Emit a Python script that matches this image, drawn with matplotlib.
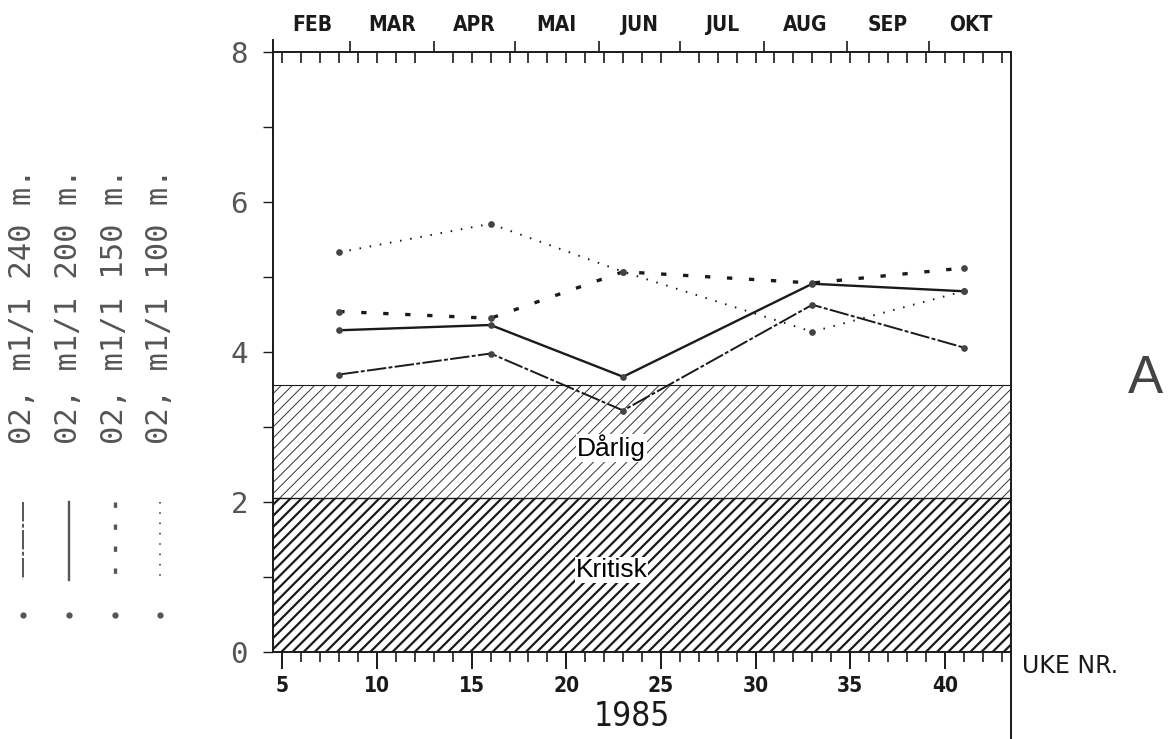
import numpy as np
import matplotlib
matplotlib.use('Agg')
import matplotlib.pyplot as plt
from matplotlib.lines import Line2D

# data
weeks = [8, 16, 23, 33, 41]
o2_240 = [3.70, 3.98, 3.22, 4.63, 4.06]
o2_200 = [4.29, 4.36, 3.67, 4.91, 4.81]
o2_150 = [4.54, 4.45, 5.07, 4.92, 5.12]
o2_100 = [5.33, 5.71, 5.07, 4.27, 4.81]
legend_labels = ['02, m1/1 240 m.', '02, m1/1 200 m.', '02, m1/1 150 m.', '02, m1/1 100 m.']

kritisk_top = 2.05
darlig_top = 3.56

months = ['FEB', 'MAR', 'APR', 'MAI', 'JUN', 'JUL', 'AUG', 'SEP', 'OKT']
month_start_day = [32, 60, 91, 121, 152, 182, 213, 244, 274, 305]  # day of year, 1985

styles = [
    dict(ls=(0, (10, 1.2, 2, 1.2)), lw=1.4),
    dict(ls='-', lw=1.7),
    dict(ls=(0, (1.6, 5)), lw=2.4),
    dict(ls=(0, (0.8, 4.5)), lw=1.4),
]
series = [o2_240, o2_200, o2_150, o2_100]

ink = '#1a1a1a'
grey = '#555555'
plotfont = dict(family='DejaVu Sans', fontstretch='condensed')

fig = plt.figure(figsize=(11.73, 7.39), dpi=100)
ax = fig.add_axes([273/1173, 1-652/739, (1011-273)/1173, 600/739])
ax.set_xlim(4.5, 43.5)
ax.set_ylim(0, 8)

# hatched zones
kr = ax.fill_between([4.5, 43.5], 0, kritisk_top, facecolor='white',
                     edgecolor=ink, hatch='///', linewidth=0)
da = ax.fill_between([4.5, 43.5], kritisk_top, darlig_top, facecolor='white',
                     edgecolor='#333333', hatch='///', linewidth=0)
if hasattr(kr, 'set_hatch_linewidth'):
    kr.set_hatch_linewidth(1.6)
    da.set_hatch_linewidth(0.7)
ax.axhline(kritisk_top, color=ink, lw=1)
ax.axhline(darlig_top, color=ink, lw=0.8)

ax.text(22.4, 2.72, 'Dårlig', family='Liberation Sans', fontsize=19, ha='center', va='center',
        bbox=dict(facecolor='white', edgecolor='none', pad=0.5))
ax.text(22.4, 1.09, 'Kritisk', family='Liberation Sans', fontsize=19, ha='center', va='center',
        bbox=dict(facecolor='white', edgecolor='none', pad=0.5))

for vals, st in zip(series, styles):
    ax.plot(weeks, vals, color=ink, linestyle=st['ls'], lw=st['lw'],
            marker='o', ms=3.8, mfc='#444444', mec='#444444', zorder=5)

# axes / spines
for s in ax.spines.values():
    s.set_color(ink)
    s.set_linewidth(1.4)
ax.set_yticks(range(0, 9))
ax.set_yticklabels([str(v) if v % 2 == 0 else '' for v in range(0, 9)],
                   family='DejaVu Sans Mono', fontsize=21, color=grey)
ax.tick_params(axis='y', length=7, width=1, pad=11, color=ink)
ax.set_xticks(range(5, 41, 5))
ax.set_xticks(range(5, 44), minor=True)
ax.set_xticklabels([str(v) for v in range(5, 41, 5)], fontsize=15, weight='bold', color=ink, **plotfont)
ax.tick_params(axis='x', which='major', length=12, width=1.4, pad=5, color=ink)
ax.tick_params(axis='x', which='minor', length=7, width=1.2, color=ink)

# top month axis
ax2 = ax.twiny()
ax2.set_xlim(ax.get_xlim())
bounds = [d / 7 for d in month_start_day]
ax2.set_xticks(bounds[1:-1])
ax2.set_xticklabels([])
ax2.tick_params(axis='x', which='major', direction='out', length=8, width=1.2, color=ink)
ax2.set_xticks(range(5, 44), minor=True)
ax2.tick_params(axis='x', which='minor', direction='in', length=8, width=1.2, color=ink)
for s in ax2.spines.values():
    s.set_visible(False)
for i, m in enumerate(months):
    mid = (bounds[i] + bounds[i + 1]) / 2
    ax2.text(mid, 1.045, m, transform=ax2.get_xaxis_transform(), ha='center', va='center',
             fontsize=15, weight='bold', color=ink, **plotfont)

# extended spines
ax.plot([1, 1], [0, -0.15], transform=ax.transAxes, color=ink, lw=1.4, clip_on=False)
ax.plot([0, 0], [1, 1.02], transform=ax.transAxes, color=ink, lw=1.4, clip_on=False)

fig.text(1022/1173, 1-666/739, 'UKE NR.', fontsize=17, color=ink, family='DejaVu Sans',
         ha='left', va='center')
fig.text(632/1173, 1-717/739, '1985', fontsize=24, color=ink, ha='center', va='center', **plotfont)
fig.text(1145/1173, 1-379/739, 'A', fontsize=38, color='#444444', ha='center', va='center',
         family='Liberation Sans')

# rotated legend on the left
col_x = [23, 69, 115, 160]
for cx, lab, st in zip(col_x, legend_labels, styles):
    xf = cx / 1173
    fig.text(xf, 1-306/739, lab, rotation=90, family='DejaVu Sans Mono', fontsize=22,
             color=grey, ha='center', va='center')
    fig.add_artist(Line2D([xf, xf], [1-502/739, 1-580/739], color=grey,
                          linestyle=st['ls'], lw=st['lw']))
    fig.add_artist(Line2D([xf], [1-615/739], marker='o', ms=3.5, color=grey))

fig.savefig('out.png', dpi=100)
